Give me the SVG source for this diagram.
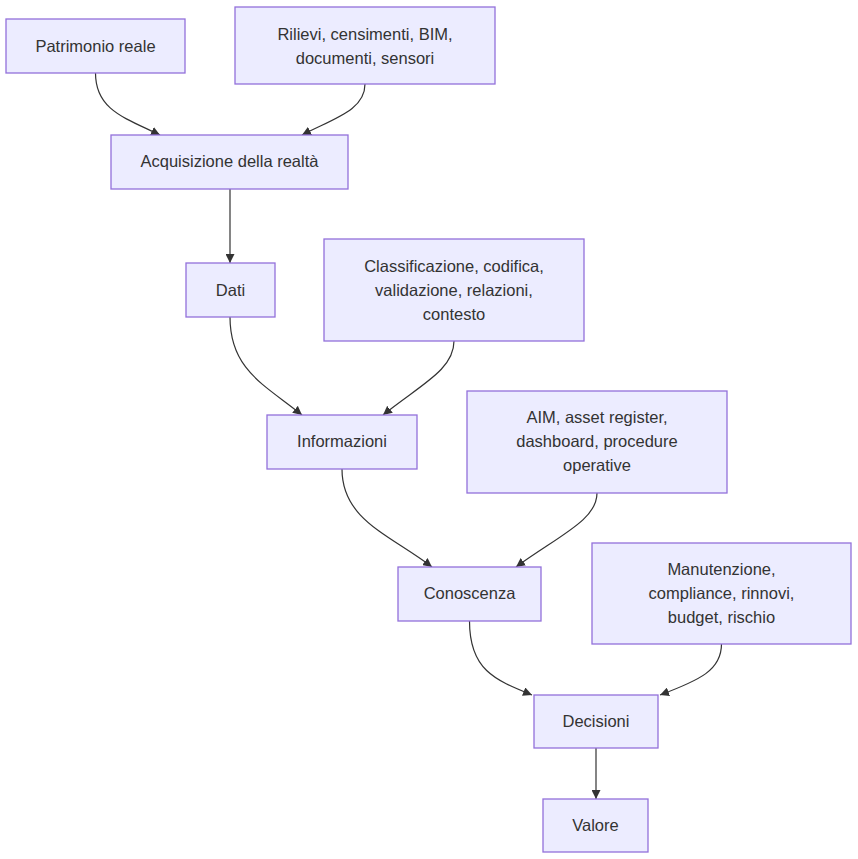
<svg xmlns="http://www.w3.org/2000/svg" width="858" height="859" viewBox="0 0 858 859">
<style>
.node rect{fill:#ECECFF;stroke:#9370DB;stroke-width:1.3}
.node text{font-family:"Liberation Sans","DejaVu Sans",sans-serif;font-size:16.5px;fill:#333;text-anchor:middle;dominant-baseline:central}
.edges path{fill:none;stroke:#333;stroke-width:1.2}
</style>
<defs>
<marker id="arr" viewBox="0 0 10 10" refX="10" refY="5" markerWidth="9" markerHeight="9" markerUnits="userSpaceOnUse" orient="auto">
<path d="M0,0 L10,5 L0,10 z" fill="#333"/>
</marker>
</defs>
<rect width="858" height="859" fill="#ffffff"/>
<g class="edges">
<path d="M95.5,73 C95.5,110 125,118 160,135" marker-end="url(#arr)"/>
<path d="M365,84 C365,110 335,118 302,135" marker-end="url(#arr)"/>
<path d="M230,189 L230,263" marker-end="url(#arr)"/>
<path d="M230,317 C230,370 265,385 302,415" marker-end="url(#arr)"/>
<path d="M454,341 C454,370 420,385 383,415" marker-end="url(#arr)"/>
<path d="M342,469 C342,520 390,535 432,567" marker-end="url(#arr)"/>
<path d="M597,493 C597,520 560,535 516,567" marker-end="url(#arr)"/>
<path d="M469.5,621 C469.5,670 495,680 532,695" marker-end="url(#arr)"/>
<path d="M721.5,644 C721.5,670 700,680 660,695" marker-end="url(#arr)"/>
<path d="M596,748 L596,799" marker-end="url(#arr)"/>
</g>
<g id="patrimonio" class="node"><rect x="6" y="19" width="179" height="54"/><text x="95.5" y="46">Patrimonio reale</text></g>
<g id="rilievi" class="node"><rect x="235" y="7" width="260" height="77"/><text x="365" y="34">Rilievi, censimenti, BIM,</text><text x="365" y="58">documenti, sensori</text></g>
<g id="acquisizione" class="node"><rect x="111" y="135" width="237" height="54"/><text x="229.5" y="161">Acquisizione della realtà</text></g>
<g id="dati" class="node"><rect x="186" y="263" width="89" height="54"/><text x="230.5" y="290">Dati</text></g>
<g id="classificazione" class="node"><rect x="324" y="239" width="260" height="102"/><text x="454" y="266">Classificazione, codifica,</text><text x="454" y="290">validazione, relazioni,</text><text x="454" y="314">contesto</text></g>
<g id="informazioni" class="node"><rect x="267" y="415" width="150" height="54"/><text x="342" y="441">Informazioni</text></g>
<g id="aim" class="node"><rect x="467" y="391" width="260" height="102"/><text x="597" y="417">AIM, asset register,</text><text x="597" y="441">dashboard, procedure</text><text x="597" y="465">operative</text></g>
<g id="conoscenza" class="node"><rect x="398" y="567" width="143" height="54"/><text x="469.5" y="593">Conoscenza</text></g>
<g id="manutenzione" class="node"><rect x="592" y="543" width="259" height="101"/><text x="721.5" y="569">Manutenzione,</text><text x="721.5" y="593">compliance, rinnovi,</text><text x="721.5" y="617">budget, rischio</text></g>
<g id="decisioni" class="node"><rect x="534" y="695" width="124" height="53"/><text x="596" y="721">Decisioni</text></g>
<g id="valore" class="node"><rect x="543" y="799" width="105" height="53"/><text x="595.5" y="825">Valore</text></g>
</svg>
